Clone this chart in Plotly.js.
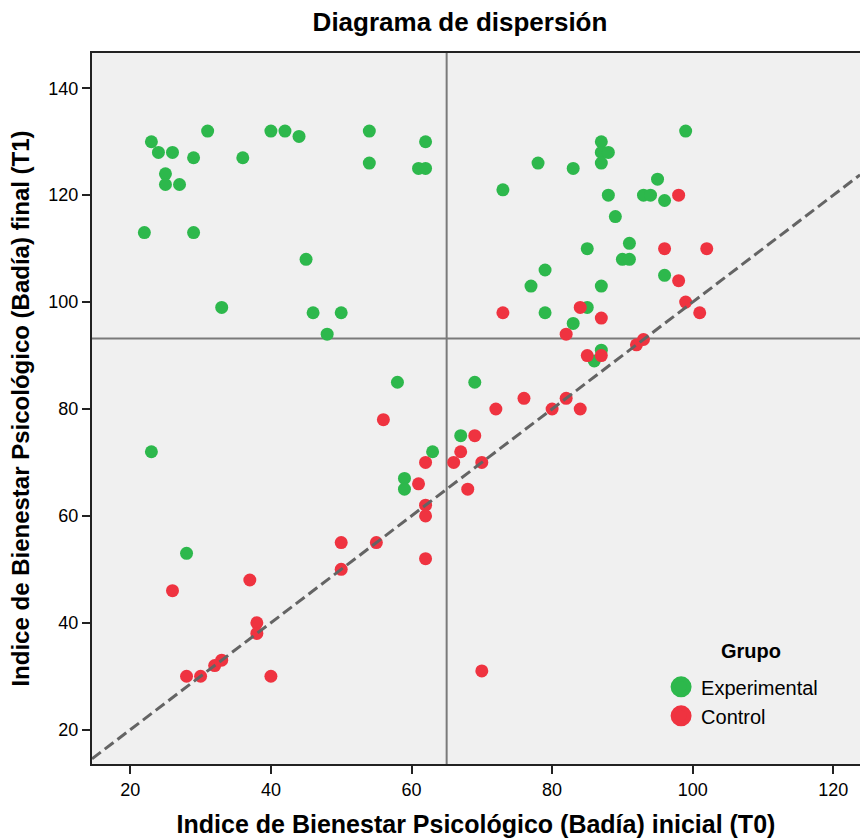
<!DOCTYPE html>
<html>
<head>
<meta charset="utf-8">
<script src="https://cdn.plot.ly/plotly-3.0.1.min.js"></script>
<style>
  html, body { margin: 0; padding: 0; background: #ffffff; }
  #chart { width: 860px; height: 839px; }
</style>
</head>
<body>
<div id="chart"></div>
<script>
// Índice de Bienestar Psicológico (Badía): T0 inicial vs T1 final
const groupNames = ["Experimental", "Control"];

const expT0 = [23, 24, 26, 31, 29, 36, 25, 25, 27, 22, 29, 40, 42, 44, 54, 54, 62, 61, 62, 45, 33, 46, 50, 48,
               87, 87, 88, 87, 78, 83, 73, 95, 88, 93, 94, 96, 89, 91, 90, 91, 85, 79, 77, 87, 96, 79, 85, 83, 87, 86, 69, 99,
               58, 23, 67, 63, 59, 59, 28];
const expT1 = [130, 128, 128, 132, 127, 127, 124, 122, 122, 113, 113, 132, 132, 131, 132, 126, 130, 125, 125, 108, 99, 98, 98, 94,
               130, 128, 128, 126, 126, 125, 121, 123, 120, 120, 120, 119, 116, 111, 108, 108, 110, 106, 103, 103, 105, 98, 99, 96, 91, 89, 85, 132,
               85, 72, 75, 72, 67, 65, 53];

const ctrlT0 = [98, 96, 102, 98, 99, 101, 73, 84, 87, 82, 93, 92, 85, 87, 76, 82, 72, 80, 84, 56, 69, 67, 62, 66, 70,
                61, 68, 62, 62, 55, 50, 62, 26, 37, 50, 38, 38, 33, 32, 28, 30, 40, 70];
const ctrlT1 = [120, 110, 110, 104, 100, 98, 98, 99, 97, 94, 93, 92, 90, 90, 82, 82, 80, 80, 80, 78, 75, 72, 70, 70, 70,
                66, 65, 62, 60, 55, 55, 52, 46, 48, 50, 40, 38, 33, 32, 30, 30, 30, 31];

// Reference lines (group means) and axis extents
const meanT0 = [65];
const meanT1 = [93.2];
const xRange = [14.55, 123.8];
const yRange = [13.58, 146.6];
const xTicks = [20, 40, 60, 80, 100, 120];
const yTicks = [20, 40, 60, 80, 100, 120, 140];

const groupColors = ["#2db84c", "#ef3340"];
const FONT = "Liberation Sans, Arial, sans-serif";

const traces = [
  {
    type: "scatter", mode: "markers", name: groupNames[0], showlegend: false,
    x: expT0, y: expT1,
    marker: { color: groupColors[0], size: 13, line: { width: 0 } },
    hoverinfo: "x+y"
  },
  {
    type: "scatter", mode: "markers", name: groupNames[1], showlegend: false,
    x: ctrlT0, y: ctrlT1,
    marker: { color: groupColors[1], size: 13, line: { width: 0 } },
    hoverinfo: "x+y"
  },
  {
    // identity line T1 = T0 across the visible range
    type: "scatter", mode: "lines", showlegend: false, hoverinfo: "skip",
    x: xRange.slice(), y: xRange.slice(),
    line: { color: "#646464", width: 3, dash: "11px,5px" }
  }
];

// legend keys with larger symbols than the plotted points
groupNames.forEach((name, i) => {
  traces.push({
    type: "scatter", mode: "markers", name: name, showlegend: true,
    x: [null], y: [null], hoverinfo: "skip",
    marker: { color: groupColors[i], size: 16, line: { width: 5, color: groupColors[i] } },
    legendrank: i + 1
  });
});

const layout = {
  width: 860, height: 839,
  margin: { l: 92, r: 0, t: 53, b: 75 },
  paper_bgcolor: "#ffffff",
  plot_bgcolor: "#f0f0f0",
  font: { family: FONT, color: "#000000" },
  title: {
    text: "<b>Diagrama de dispersión</b>",
    font: { family: FONT, size: 26, color: "#000000" },
    x: 460 / 860, xanchor: "center", xref: "container",
    y: 1 - 22 / 839, yanchor: "middle", yref: "container"
  },
  xaxis: {
    range: xRange, tickvals: xTicks, ticktext: xTicks.map(String),
    showgrid: false, zeroline: false,
    showline: true, linecolor: "#222222", linewidth: 2, mirror: true,
    ticks: "outside", ticklen: 8, tickwidth: 2, tickcolor: "#222222",
    tickfont: { family: FONT, size: 18, color: "#000000" },
    title: { text: "<b>Indice de Bienestar Psicológico (Badía) inicial (T0)</b>",
             font: { family: FONT, size: 25, color: "#000000" }, standoff: 17 }
  },
  yaxis: {
    range: yRange, tickvals: yTicks, ticktext: yTicks.map(String),
    showgrid: false, zeroline: false,
    showline: true, linecolor: "#222222", linewidth: 2, mirror: false,
    ticks: "outside", ticklen: 8, tickwidth: 2, tickcolor: "#222222",
    tickfont: { family: FONT, size: 18, color: "#000000" },
    title: { text: "<b>Indice de Bienestar Psicológico (Badía) final (T1)</b>",
             font: { family: FONT, size: 24, color: "#000000" }, standoff: 12 }
  },
  shapes: [
    { type: "line", layer: "below", xref: "x", yref: "paper",
      x0: meanT0[0], x1: meanT0[0], y0: 0, y1: 1,
      line: { color: "#7a7a7a", width: 2 } },
    { type: "line", layer: "below", xref: "paper", yref: "y",
      x0: 0, x1: 1, y0: meanT1[0], y1: meanT1[0],
      line: { color: "#7a7a7a", width: 2 } }
  ],
  annotations: [
    { text: "<b>Grupo</b>", xref: "paper", yref: "paper",
      x: 0.858, y: 0.159, xanchor: "center", yanchor: "middle", showarrow: false,
      font: { family: FONT, size: 20, color: "#000000" } }
  ],
  showlegend: true,
  legend: {
    x: 0.741, xanchor: "left", y: 0.136, yanchor: "top",
    bgcolor: "rgba(0,0,0,0)", borderwidth: 0,
    font: { family: FONT, size: 20, color: "#000000" },
    itemsizing: "trace", tracegroupgap: 0
  },
  hovermode: "closest"
};

Plotly.newPlot("chart", traces, layout, { displayModeBar: false, staticPlot: true });
</script>
</body>
</html>
